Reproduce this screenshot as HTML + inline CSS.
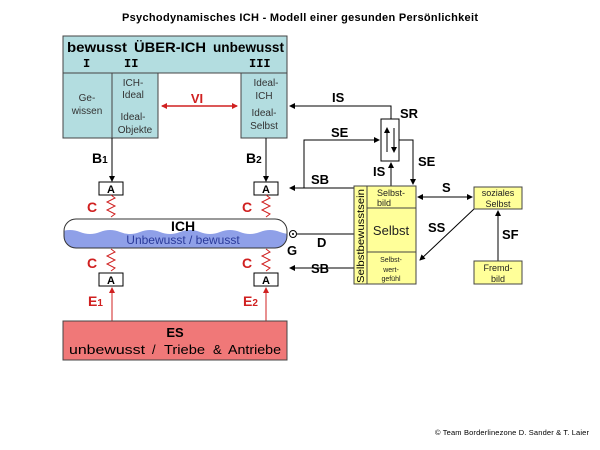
<!DOCTYPE html>
<html><head><meta charset="utf-8"><style>
body{margin:0;background:#fff;}
svg{display:block;font-family:"Liberation Sans",Arial,sans-serif;}
.b{font-weight:bold}
</style></head><body>
<svg width="600" height="450" viewBox="0 0 600 450" xmlns="http://www.w3.org/2000/svg">
<defs>
<marker id="ak" markerWidth="6" markerHeight="6" refX="5" refY="3" orient="auto" markerUnits="userSpaceOnUse"><path d="M0,0 L6,3 L0,6 z" fill="#000"/></marker>
<marker id="ar" markerWidth="6" markerHeight="6" refX="5" refY="3" orient="auto" markerUnits="userSpaceOnUse"><path d="M0,0 L6,3 L0,6 z" fill="#d02020"/></marker>
<marker id="ars" markerWidth="6" markerHeight="6" refX="1" refY="3" orient="auto" markerUnits="userSpaceOnUse"><path d="M6,0 L0,3 L6,6 z" fill="#d02020"/></marker>
<marker id="aks" markerWidth="6" markerHeight="6" refX="1" refY="3" orient="auto" markerUnits="userSpaceOnUse"><path d="M6,0 L0,3 L6,6 z" fill="#000"/></marker>
</defs>
<text x="300" y="21" text-anchor="middle" class="b" font-size="11" textLength="356">Psychodynamisches ICH - Modell einer gesunden Persönlichkeit</text>

<!-- Über-Ich -->
<rect x="63" y="36" width="224" height="37" fill="#b3dde0" stroke="#444"/>
<text x="67" y="52" font-size="14" class="b" textLength="60" lengthAdjust="spacingAndGlyphs">bewusst</text>
<text x="134" y="52" font-size="14" class="b" textLength="72" lengthAdjust="spacingAndGlyphs">ÜBER-ICH</text>
<text x="213" y="52" font-size="14" class="b" textLength="71" lengthAdjust="spacingAndGlyphs">unbewusst</text>
<text x="83" y="67" font-size="12" class="b" font-family="Liberation Mono">I</text>
<text x="124" y="67" font-size="12" class="b" font-family="Liberation Mono">II</text>
<text x="249" y="67" font-size="12" class="b" font-family="Liberation Mono">III</text>
<rect x="63" y="73" width="49" height="65" fill="#b3dde0" stroke="#444"/>
<rect x="112" y="73" width="46" height="65" fill="#b3dde0" stroke="#444"/>
<rect x="241" y="73" width="46" height="65" fill="#b3dde0" stroke="#444"/>
<g font-size="10" fill="#333" text-anchor="middle">
<text x="87" y="101">Ge-</text><text x="87" y="114">wissen</text>
<text x="133" y="86">ICH-</text><text x="133" y="98">Ideal</text>
<text x="133" y="120">Ideal-</text><text x="135" y="133">Objekte</text>
<text x="266" y="86">Ideal-</text><text x="264" y="99">ICH</text>
<text x="264" y="116">Ideal-</text><text x="264" y="129">Selbst</text>
</g>
<line x1="162" y1="106" x2="237" y2="106" stroke="#d02020" stroke-width="1.5" marker-start="url(#ars)" marker-end="url(#ar)"/>
<text x="197" y="103" text-anchor="middle" fill="#d02020" class="b" font-size="13">VI</text>

<line x1="112" y1="138" x2="112" y2="181" stroke="#000" marker-end="url(#ak)"/>
<line x1="266" y1="138" x2="266" y2="181" stroke="#000" marker-end="url(#ak)"/>
<text x="92" y="163" class="b" font-size="14">B<tspan font-size="10">1</tspan></text>
<text x="246" y="163" class="b" font-size="14">B<tspan font-size="10">2</tspan></text>

<g stroke="#000" fill="#fff">
<rect x="99" y="182" width="24" height="13"/><rect x="254" y="182" width="24" height="13"/>
<rect x="99" y="273" width="24" height="13"/><rect x="254" y="273" width="24" height="13"/>
</g>
<g class="b" font-size="11" text-anchor="middle">
<text x="111" y="193">A</text><text x="266" y="193">A</text>
<text x="111" y="284">A</text><text x="266" y="284">A</text>
</g>
<g stroke="#d02020" fill="none" stroke-width="1">
<path d="M111,195 l4,3 l-8,4 l8,4 l-8,4 l8,4 l-4,3"/>
<path d="M266,195 l4,3 l-8,4 l8,4 l-8,4 l8,4 l-4,3"/>
<path d="M111,249 l4,3 l-8,4 l8,4 l-8,4 l8,4 l-4,3"/>
<path d="M266,249 l4,3 l-8,4 l8,4 l-8,4 l8,4 l-4,3"/>
</g>
<g fill="#d02020" class="b" font-size="14">
<text x="87" y="212">C</text><text x="242" y="212">C</text>
<text x="87" y="268">C</text><text x="242" y="268">C</text>
</g>
<defs><clipPath id="tc"><rect x="64" y="219" width="223" height="29" rx="12"/></clipPath></defs>
<rect x="64" y="219" width="223" height="29" rx="12" fill="#fff"/>
<path clip-path="url(#tc)" d="M60,232 q10,-4 20,0 t20,0 t20,0 t20,0 t20,0 t20,0 t20,0 t20,0 t20,0 t20,0 t20,0 t20,0 L290,250 L60,250 z" fill="#8fa0e8"/>
<rect x="64" y="219" width="223" height="29" rx="12" fill="none" stroke="#333"/>
<text x="183" y="231" text-anchor="middle" class="b" font-size="14">ICH</text>
<text x="183" y="244" text-anchor="middle" font-size="12" fill="#2a3a9a">Unbewusst / bewusst</text>
<circle cx="293" cy="234" r="3.5" fill="#fff" stroke="#000"/><circle cx="293" cy="234" r="1" fill="#000"/>
<text x="287" y="255" class="b" font-size="13">G</text>

<line x1="112" y1="321" x2="112" y2="288" stroke="#d02020" marker-end="url(#ar)"/>
<line x1="266" y1="321" x2="266" y2="288" stroke="#d02020" marker-end="url(#ar)"/>
<text x="88" y="306" class="b" font-size="14" fill="#d02020">E<tspan font-size="10">1</tspan></text>
<text x="243" y="306" class="b" font-size="14" fill="#d02020">E<tspan font-size="10">2</tspan></text>
<rect x="63" y="321" width="224" height="39" fill="#f07878" stroke="#444"/>
<text x="175" y="337" text-anchor="middle" class="b" font-size="13">ES</text>
<text x="69" y="354" font-size="13" textLength="76" lengthAdjust="spacingAndGlyphs">unbewusst</text>
<text x="152" y="354" font-size="13">/</text>
<text x="164" y="354" font-size="13" textLength="41" lengthAdjust="spacingAndGlyphs">Triebe</text>
<text x="213" y="354" font-size="13">&amp;</text>
<text x="228" y="354" font-size="13" textLength="53" lengthAdjust="spacingAndGlyphs">Antriebe</text>

<g stroke="#000" fill="none">
<polyline points="391,119 391,106 290,106" marker-end="url(#ak)"/>
<polyline points="354,188 304,188 304,140 379,140" marker-end="url(#ak)"/>
<line x1="354" y1="188" x2="290" y2="188" marker-end="url(#ak)"/>
<polyline points="399,140 413,140 413,184" marker-end="url(#ak)"/>
<line x1="391" y1="186" x2="391" y2="163" marker-end="url(#ak)"/>
<line x1="297" y1="234" x2="354" y2="234"/>
<line x1="354" y1="268" x2="290" y2="268" marker-end="url(#ak)"/>
<line x1="418" y1="197" x2="472" y2="197" marker-start="url(#aks)" marker-end="url(#ak)"/>
<line x1="474" y1="209" x2="420" y2="260" marker-end="url(#ak)"/>
<line x1="498" y1="261" x2="498" y2="211" marker-end="url(#ak)"/>
</g>
<rect x="381" y="119" width="18" height="42" fill="#fff" stroke="#000"/>
<line x1="387" y1="152" x2="387" y2="128" stroke="#000" marker-end="url(#ak)"/>
<line x1="394" y1="128" x2="394" y2="152" stroke="#000" marker-end="url(#ak)"/>
<g class="b" font-size="13">
<text x="332" y="102">IS</text><text x="400" y="118">SR</text>
<text x="331" y="137">SE</text><text x="418" y="166">SE</text>
<text x="373" y="176">IS</text><text x="311" y="184">SB</text>
<text x="317" y="247">D</text><text x="311" y="273">SB</text>
<text x="442" y="192">S</text><text x="428" y="232">SS</text>
<text x="502" y="239">SF</text>
</g>
<g fill="#ffff99" stroke="#444">
<rect x="354" y="186" width="13" height="98"/>
<rect x="367" y="186" width="49" height="22"/>
<rect x="367" y="208" width="49" height="44"/>
<rect x="367" y="252" width="49" height="32"/>
<rect x="474" y="187" width="48" height="22"/>
<rect x="474" y="261" width="48" height="23"/>
</g>
<text transform="translate(364,283) rotate(-90)" font-size="10" textLength="94" lengthAdjust="spacingAndGlyphs">Selbstbewusstsein</text>
<g font-size="9" text-anchor="middle" fill="#222">
<text x="391" y="196">Selbst-</text><text x="384" y="206">bild</text>
<text x="391" y="235" font-size="13">Selbst</text>
<text x="391" y="262" font-size="7">Selbst-</text><text x="391" y="272" font-size="7">wert-</text><text x="391" y="281" font-size="7">gefühl</text>
<text x="498" y="196">soziales</text><text x="498" y="207">Selbst</text>
<text x="498" y="271">Fremd-</text><text x="498" y="282">bild</text>
</g>
<text x="512" y="435" text-anchor="middle" font-size="7.5" textLength="154">© Team Borderlinezone D. Sander &amp; T. Laier</text>
</svg>
</body></html>
